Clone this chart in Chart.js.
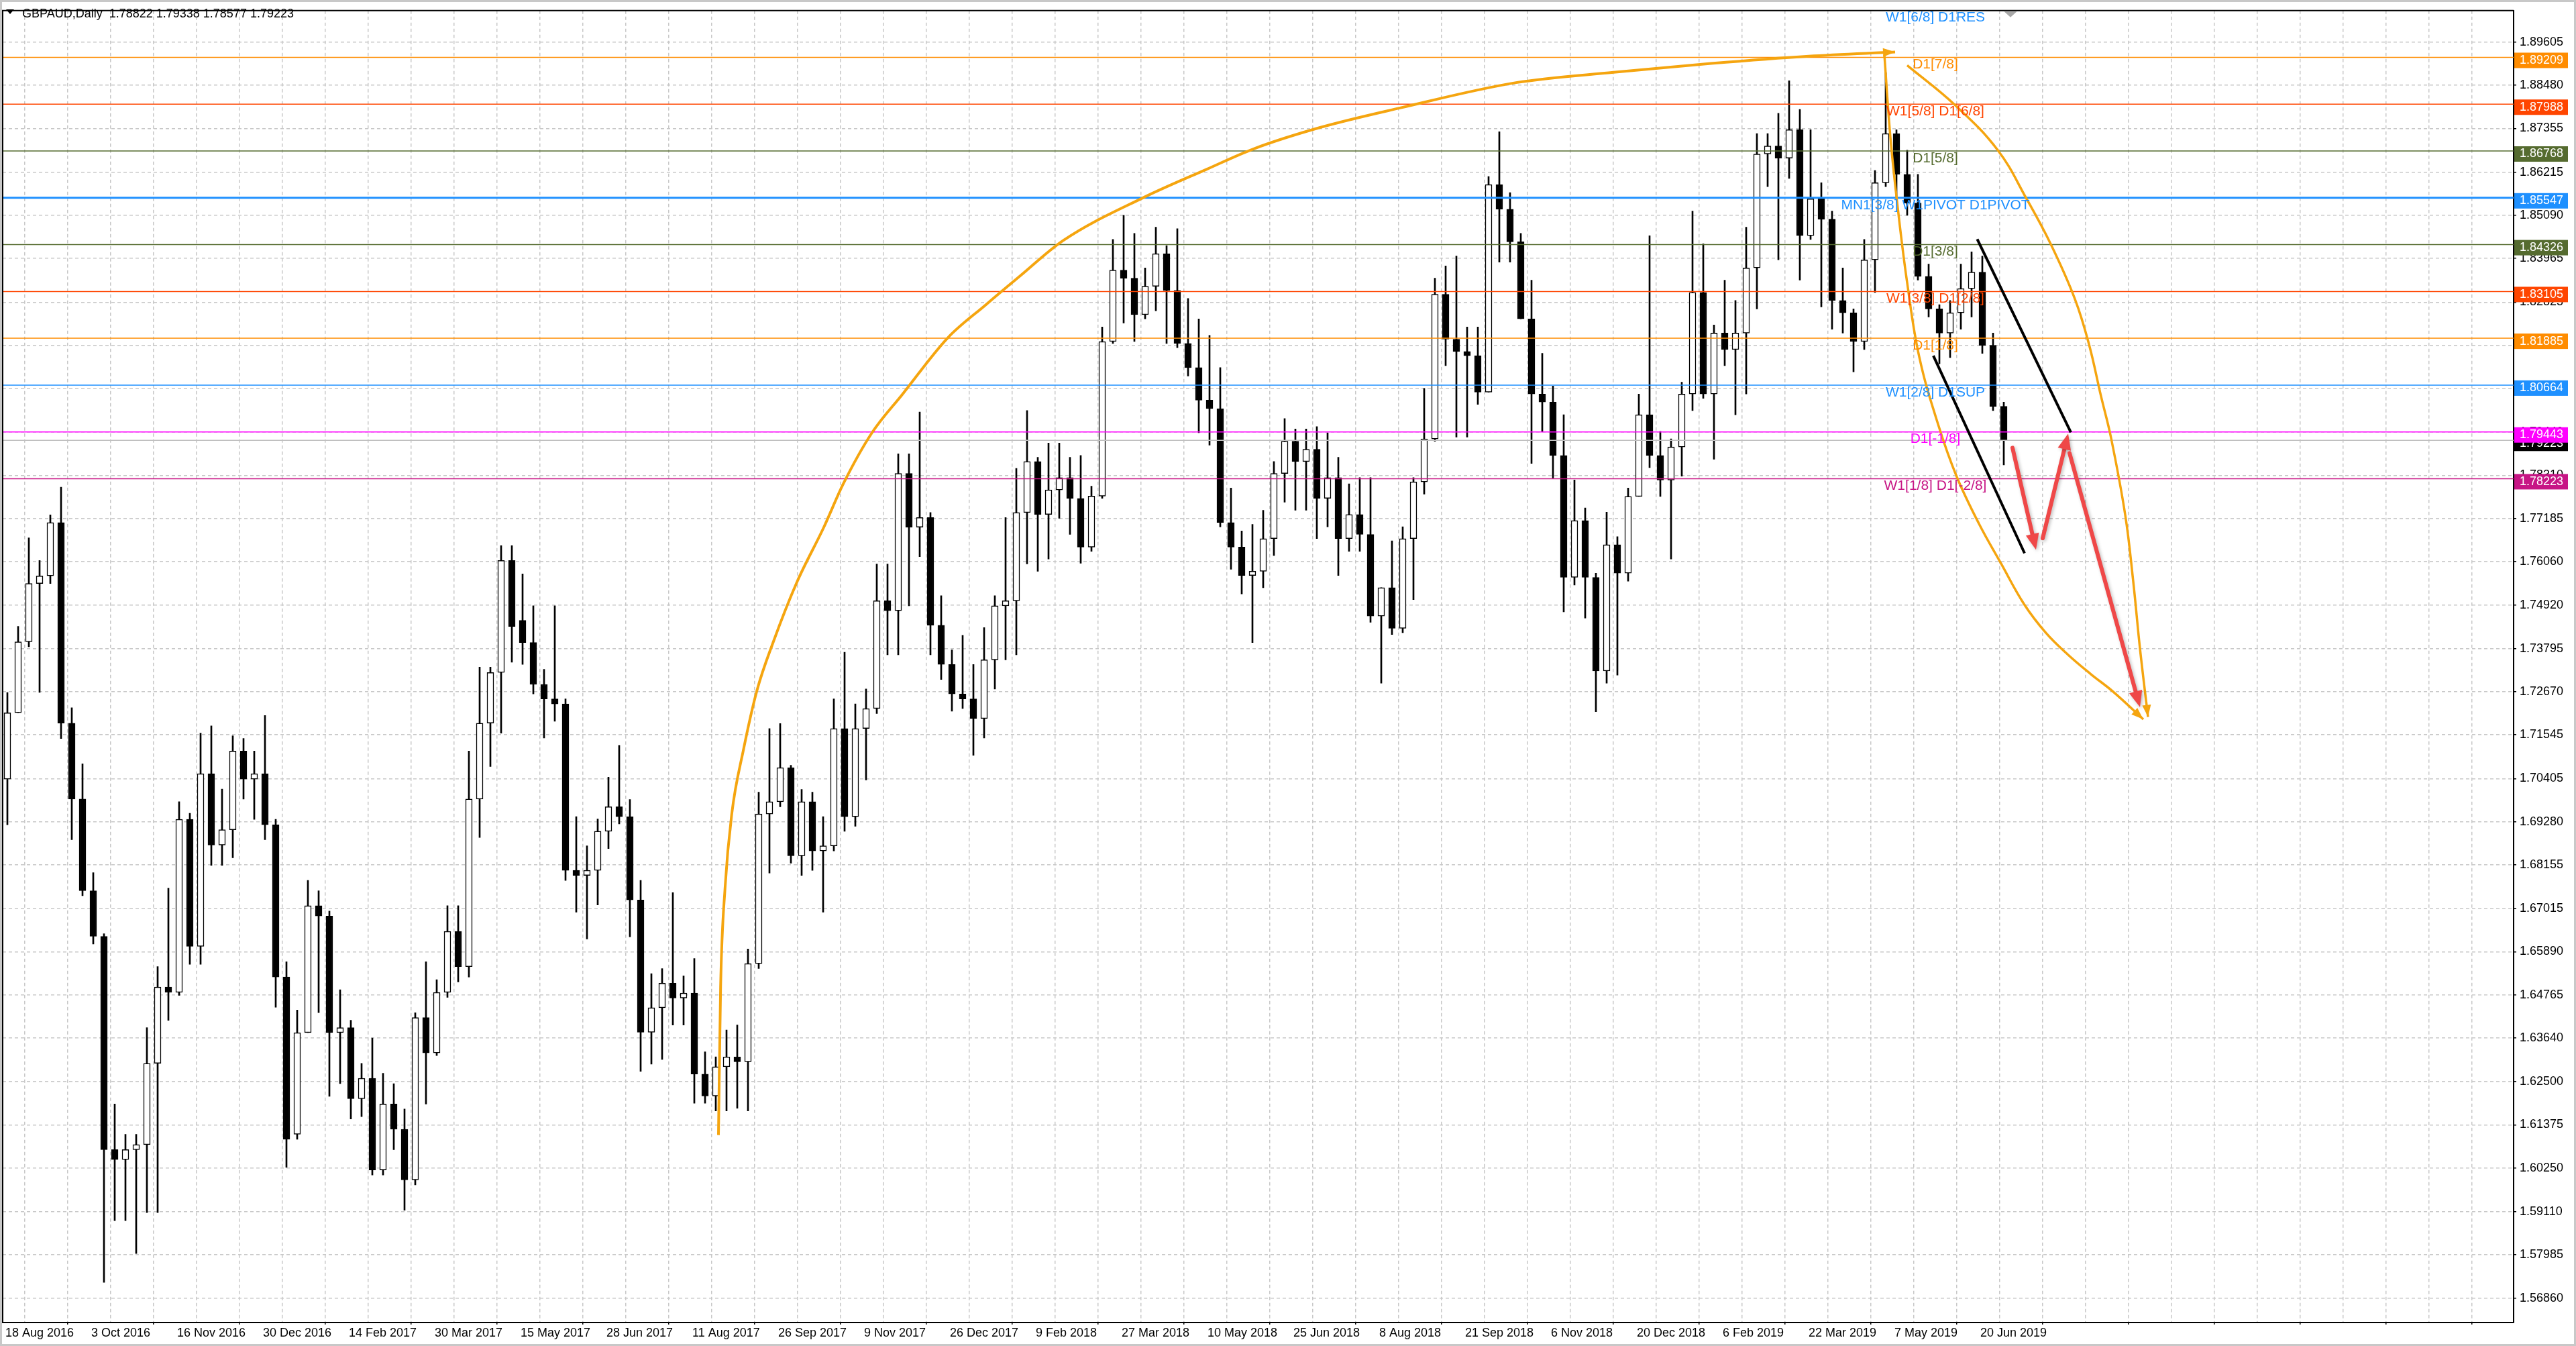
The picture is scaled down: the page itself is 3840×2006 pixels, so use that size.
<!DOCTYPE html>
<html>
<head>
<meta charset="utf-8">
<title>GBPAUD,Daily</title>
<script src="https://cdn.jsdelivr.net/npm/chart.js@4.4.1/dist/chart.umd.min.js"></script>
<style>
  html, body { margin: 0; padding: 0; background: #fff; overflow: hidden; }
  #wrap { width: 3840px; height: 2006px; }
</style>
</head>
<body>
<div id="wrap"><canvas id="chart" width="3840" height="2006"></canvas></div>
<script>
// GBPAUD daily: one candle = 4 trading days
const opens = [
  1.7039, 1.7212, 1.7397, 1.7549, 1.7569, 1.7708, 1.7185, 1.6987, 1.6748, 1.6629,
  1.6073, 1.6047, 1.6073, 1.6086, 1.6298, 1.6497, 1.6483, 1.6934, 1.6603, 1.7053,
  1.6867, 1.6907, 1.7112, 1.7039, 1.7053, 1.6920, 1.6523, 1.6113, 1.6378, 1.6709,
  1.6682, 1.6378, 1.6391, 1.6206, 1.6259, 1.6020, 1.6192, 1.6126, 1.5994, 1.6417,
  1.6325, 1.6483, 1.6642, 1.6550, 1.6987, 1.7185, 1.7317, 1.7609, 1.7453, 1.7395,
  1.7286, 1.7248, 1.7235, 1.6801, 1.6788, 1.6801, 1.6903, 1.6967, 1.6941, 1.6724,
  1.6379, 1.6443, 1.6507, 1.6468, 1.6481, 1.6270, 1.6213, 1.6289, 1.6315, 1.6302,
  1.6558, 1.6948, 1.6980, 1.7069, 1.6839, 1.6980, 1.6852, 1.6865, 1.7171, 1.6941,
  1.7171, 1.7223, 1.7504, 1.7478, 1.7836, 1.7696, 1.7721, 1.7440, 1.7338, 1.7261,
  1.7248, 1.7197, 1.7350, 1.7491, 1.7504, 1.7734, 1.7867, 1.7729, 1.7793, 1.7825,
  1.7771, 1.7644, 1.7777, 1.8180, 1.8366, 1.8345, 1.8250, 1.8324, 1.8409, 1.8313,
  1.8175, 1.8112, 1.8027, 1.8005, 1.7708, 1.7644, 1.7570, 1.7581, 1.7666, 1.7836,
  1.7920, 1.7867, 1.7899, 1.7771, 1.7825, 1.7666, 1.7729, 1.7677, 1.7464, 1.7538,
  1.7432, 1.7666, 1.7814, 1.7926, 1.8303, 1.8186, 1.8154, 1.8143, 1.8048, 1.8589,
  1.8525, 1.8440, 1.8239, 1.8043, 1.8022, 1.7883, 1.7565, 1.7713, 1.7565, 1.7321,
  1.7650, 1.7576, 1.7776, 1.7989, 1.7883, 1.7819, 1.7905, 1.8043, 1.8308, 1.8043,
  1.8202, 1.8159, 1.8202, 1.8372, 1.8669, 1.8690, 1.8658, 1.8732, 1.8456, 1.8552,
  1.8499, 1.8287, 1.8255, 1.8180, 1.8393, 1.8594, 1.8722, 1.8616, 1.8541, 1.8350,
  1.8265, 1.8202, 1.8255, 1.8318, 1.8361, 1.8170, 1.8011
];
const highs = [
  1.7265, 1.7437, 1.7668, 1.7609, 1.7728, 1.7800, 1.7225, 1.7079, 1.6795, 1.6636,
  1.6192, 1.6113, 1.6113, 1.6391, 1.6550, 1.6755, 1.6980, 1.6950, 1.7159, 1.7178,
  1.7013, 1.7152, 1.7145, 1.7112, 1.7205, 1.6934, 1.6563, 1.6437, 1.6775, 1.6748,
  1.6695, 1.6490, 1.6410, 1.6298, 1.6364, 1.6272, 1.6245, 1.6179, 1.6430, 1.6563,
  1.6516, 1.6709, 1.6709, 1.7112, 1.7331, 1.7331, 1.7648, 1.7648, 1.7574, 1.7491,
  1.7325, 1.7491, 1.7248, 1.6941, 1.6865, 1.6935, 1.7044, 1.7127, 1.6986, 1.6775,
  1.6532, 1.6545, 1.6743, 1.6526, 1.6571, 1.6328, 1.6315, 1.6385, 1.6398, 1.6596,
  1.7005, 1.7171, 1.7184, 1.7075, 1.7012, 1.7005, 1.6941, 1.7248, 1.7370, 1.7235,
  1.7274, 1.7600, 1.7600, 1.7887, 1.7887, 1.7996, 1.7734, 1.7517, 1.7376, 1.7414,
  1.7338, 1.7434, 1.7517, 1.7721, 1.7849, 1.8000, 1.7878, 1.7915, 1.7915, 1.7878,
  1.7883, 1.7803, 1.8218, 1.8446, 1.8509, 1.8462, 1.8372, 1.8478, 1.8430, 1.8474,
  1.8292, 1.8239, 1.8196, 1.8112, 1.7798, 1.7686, 1.7703, 1.7740, 1.7867, 1.7979,
  1.7952, 1.7952, 1.7958, 1.7942, 1.7878, 1.7809, 1.7825, 1.7825, 1.7538, 1.7660,
  1.7697, 1.7825, 1.8058, 1.8345, 1.8377, 1.8403, 1.8218, 1.8218, 1.8610, 1.8727,
  1.8568, 1.8462, 1.8340, 1.8149, 1.8064, 1.7989, 1.7819, 1.7746, 1.7576, 1.7735,
  1.7671, 1.7798, 1.8043, 1.8456, 1.7946, 1.7926, 1.8074, 1.8520, 1.8435, 1.8223,
  1.8340, 1.8287, 1.8478, 1.8722, 1.8722, 1.8775, 1.8860, 1.8785, 1.8732, 1.8594,
  1.8520, 1.8372, 1.8265, 1.8446, 1.8626, 1.8881, 1.8732, 1.8679, 1.8616, 1.8382,
  1.8276, 1.8287, 1.8382, 1.8414, 1.8403, 1.8202, 1.8022
];
const lows = [
  1.6920, 1.7212, 1.7384, 1.7265, 1.7549, 1.7145, 1.6881, 1.6735, 1.6609, 1.5727,
  1.5888, 1.5888, 1.5802, 1.5909, 1.5909, 1.6410, 1.6475, 1.6556, 1.6556, 1.6814,
  1.6814, 1.6834, 1.6987, 1.6934, 1.6881, 1.6444, 1.6027, 1.6100, 1.6378, 1.6430,
  1.6212, 1.6245, 1.6153, 1.6159, 1.6007, 1.6007, 1.6073, 1.5915, 1.5981, 1.6192,
  1.6318, 1.6470, 1.6510, 1.6523, 1.6887, 1.7072, 1.7159, 1.7344, 1.7338, 1.7261,
  1.7146, 1.7190, 1.6775, 1.6692, 1.6622, 1.6711, 1.6858, 1.6922, 1.6628, 1.6277,
  1.6296, 1.6308, 1.6398, 1.6398, 1.6194, 1.6194, 1.6174, 1.6174, 1.6181, 1.6174,
  1.6545, 1.6794, 1.6967, 1.6820, 1.6788, 1.6801, 1.6692, 1.6852, 1.6903, 1.6916,
  1.7037, 1.7210, 1.7363, 1.7363, 1.7491, 1.7619, 1.7363, 1.7299, 1.7216, 1.7223,
  1.7101, 1.7146, 1.7274, 1.7350, 1.7363, 1.7600, 1.7581, 1.7613, 1.7719, 1.7677,
  1.7602, 1.7633, 1.7771, 1.8175, 1.8228, 1.8180, 1.8239, 1.8260, 1.8175, 1.8164,
  1.8090, 1.7942, 1.7910, 1.7697, 1.7586, 1.7522, 1.7395, 1.7538, 1.7622, 1.7761,
  1.7740, 1.7740, 1.7666, 1.7697, 1.7570, 1.7633, 1.7633, 1.7448, 1.7289, 1.7416,
  1.7421, 1.7507, 1.7782, 1.7920, 1.8117, 1.7931, 1.7931, 1.8016, 1.8048, 1.8387,
  1.8387, 1.8239, 1.7862, 1.7946, 1.7824, 1.7475, 1.7545, 1.7459, 1.7215, 1.7289,
  1.7310, 1.7555, 1.7776, 1.7851, 1.7776, 1.7613, 1.7829, 1.8000, 1.8032, 1.7873,
  1.8117, 1.7989, 1.8043, 1.8265, 1.8584, 1.8393, 1.8605, 1.8340, 1.8446, 1.8270,
  1.8212, 1.8202, 1.8101, 1.8159, 1.8308, 1.8584, 1.8552, 1.8509, 1.8340, 1.8244,
  1.8122, 1.8138, 1.8212, 1.8244, 1.8149, 1.8000, 1.7858
];
const closes = [
  1.7212, 1.7397, 1.7549, 1.7569, 1.7708, 1.7185, 1.6987, 1.6748, 1.6629, 1.6073,
  1.6047, 1.6073, 1.6086, 1.6298, 1.6497, 1.6483, 1.6934, 1.6603, 1.7053, 1.6867,
  1.6907, 1.7112, 1.7039, 1.7053, 1.6920, 1.6523, 1.6100, 1.6378, 1.6709, 1.6682,
  1.6378, 1.6391, 1.6206, 1.6259, 1.6020, 1.6192, 1.6126, 1.5994, 1.6417, 1.6325,
  1.6483, 1.6642, 1.6550, 1.6987, 1.7185, 1.7317, 1.7609, 1.7437, 1.7395, 1.7286,
  1.7248, 1.7235, 1.6801, 1.6788, 1.6801, 1.6903, 1.6967, 1.6941, 1.6724, 1.6379,
  1.6443, 1.6507, 1.6468, 1.6481, 1.6270, 1.6213, 1.6289, 1.6315, 1.6302, 1.6558,
  1.6948, 1.6980, 1.7069, 1.6839, 1.6980, 1.6852, 1.6865, 1.7171, 1.6941, 1.7171,
  1.7223, 1.7504, 1.7478, 1.7836, 1.7696, 1.7721, 1.7440, 1.7338, 1.7261, 1.7248,
  1.7197, 1.7350, 1.7491, 1.7504, 1.7734, 1.7867, 1.7729, 1.7793, 1.7825, 1.7771,
  1.7644, 1.7777, 1.8180, 1.8366, 1.8345, 1.8250, 1.8324, 1.8409, 1.8313, 1.8175,
  1.8112, 1.8027, 1.8005, 1.7708, 1.7644, 1.7570, 1.7581, 1.7666, 1.7836, 1.7920,
  1.7867, 1.7899, 1.7771, 1.7825, 1.7666, 1.7729, 1.7677, 1.7464, 1.7538, 1.7432,
  1.7666, 1.7814, 1.7926, 1.8303, 1.8186, 1.8154, 1.8143, 1.8048, 1.8589, 1.8525,
  1.8440, 1.8239, 1.8043, 1.8022, 1.7883, 1.7565, 1.7713, 1.7565, 1.7321, 1.7650,
  1.7576, 1.7776, 1.7989, 1.7883, 1.7819, 1.7905, 1.8043, 1.8308, 1.8043, 1.8202,
  1.8159, 1.8202, 1.8372, 1.8669, 1.8690, 1.8658, 1.8732, 1.8456, 1.8552, 1.8499,
  1.8287, 1.8255, 1.8180, 1.8393, 1.8594, 1.8722, 1.8616, 1.8541, 1.8350, 1.8265,
  1.8202, 1.8255, 1.8318, 1.8361, 1.8170, 1.8011, 1.7922
];
const barsPerCandle = 4;

const dateLabels = [
  '18 Aug 2016', '3 Oct 2016', '16 Nov 2016', '30 Dec 2016', '14 Feb 2017', '30 Mar 2017',
  '15 May 2017', '28 Jun 2017', '11 Aug 2017', '26 Sep 2017', '9 Nov 2017', '26 Dec 2017',
  '9 Feb 2018', '27 Mar 2018', '10 May 2018', '25 Jun 2018', '8 Aug 2018', '21 Sep 2018',
  '6 Nov 2018', '20 Dec 2018', '6 Feb 2019', '22 Mar 2019', '7 May 2019', '20 Jun 2019'
];
const priceTicks = [
  1.89605, 1.88480, 1.87355, 1.86215, 1.85090, 1.83965, 1.82825, 1.81700, 1.80575, 1.79440,
  1.78310, 1.77185, 1.76060, 1.74920, 1.73795, 1.72670, 1.71545, 1.70405, 1.69280, 1.68155,
  1.67015, 1.65890, 1.64765, 1.63640, 1.62500, 1.61375, 1.60250, 1.59110, 1.57985, 1.56860
];

// murrey levels
const levelPrices = [1.90430, 1.89209, 1.87988, 1.86768, 1.85547, 1.84326, 1.83105, 1.81885, 1.80664, 1.79443, 1.78223];
const levelTags = ['W1[6/8] D1RES', 'D1[7/8]', 'W1[5/8] D1[6/8]', 'D1[5/8]', 'MN1[3/8] W1PIVOT D1PIVOT',
  'D1[3/8]', 'W1[3/8] D1[2/8]', 'D1[1/8]', 'W1[2/8] D1SUP', 'D1[-1/8]', 'W1[1/8] D1[-2/8]'];
const levelColors = ['#1E90FF', '#FF8C00', '#FF4500', '#556B2F', '#1E90FF', '#556B2F',
  '#FF4500', '#FF8C00', '#1E90FF', '#FF00FF', '#C71585'];
const lastBar = [1.78822, 1.79338, 1.78577, 1.79223];
const tagBar = 720;
const shiftBar = 748;

// hand drawn objects, [bar, price]
const bigArc = [[266.5, 1.6111], [267.3, 1.6497], [268.95, 1.6755], [271.45, 1.6948], [275.8, 1.7115],
  [280.8, 1.7269], [287, 1.7398], [295.7, 1.7552], [305.65, 1.7694], [313.1, 1.7810], [323.7, 1.7942],
  [334.9, 1.8041], [352, 1.8190], [366, 1.8275], [378.75, 1.8350], [394.9, 1.8443], [424.8, 1.8555],
  [448.4, 1.8629], [465.8, 1.8682], [490.7, 1.8738], [520.5, 1.8789], [563.75, 1.8855], [600.1, 1.8882],
  [636.45, 1.8905], [672.8, 1.8924], [705, 1.8935]];
const innerArc = [[701, 1.8927], [703.25, 1.8712], [706, 1.8528], [709.5, 1.8333], [714, 1.8140],
  [721.25, 1.7959], [728, 1.7827], [736.25, 1.7705], [744.5, 1.7601], [753, 1.7496], [761.25, 1.7420],
  [769.5, 1.7363], [777.9, 1.7313], [786.25, 1.7267], [797.5, 1.7195]];
const outerArc = [[709.5, 1.8900], [727.25, 1.8797], [743.25, 1.8679], [754, 1.8552], [763, 1.8434],
  [772, 1.8291], [777.25, 1.8173], [781.75, 1.8037], [785.5, 1.7928], [790.75, 1.7728], [793.75, 1.7554],
  [796.25, 1.7380], [799.25, 1.7201]];
const channelTop = [[735.6, 1.8447], [770.5, 1.7943]];
const channelBottom = [[719.25, 1.8143], [753.25, 1.7628]];
const redArrows = [
  [[748.75, 1.7903], [757.5, 1.7637]],
  [[760, 1.7667], [769.5, 1.7940]],
  [[770, 1.7889], [796.25, 1.7227]]
];

const xMin = -0.25, xMax = 935.5;
const yMin = 1.56222, yMax = 1.90428;
const FONT = '"Liberation Sans", Arial, sans-serif';
const ORANGE = '#F5A50F';
const RED = '#EF4848';

const candleX = opens.map((o, k) => k * barsPerCandle + (barsPerCandle - 1) / 2);
const toPts = arr => arr.map(p => ({x: p[0], y: p[1]}));

const datasets = [];
datasets.push({
  type: 'line', data: toPts(bigArc), borderColor: ORANGE, borderWidth: 4,
  pointRadius: 0, cubicInterpolationMode: 'monotone', order: 0
});
[innerArc, outerArc].forEach(arc => {
  datasets.push({
    type: 'line', data: toPts(arc), borderColor: ORANGE, borderWidth: 3.5,
    pointRadius: 0, tension: 0.4, order: 0
  });
});
[channelTop, channelBottom].forEach(line => {
  datasets.push({type: 'line', data: toPts(line), borderColor: '#000', borderWidth: 4, pointRadius: 0, order: 0});
});
levelPrices.forEach((p, i) => {
  if (p > yMax) return;
  datasets.push({
    type: 'line', data: [{x: xMin, y: p}, {x: xMax, y: p}], borderColor: levelColors[i],
    borderWidth: i === 4 ? 3 : 1.5, pointRadius: 0, order: 1
  });
});
datasets.push({
  type: 'line', data: [{x: xMin, y: lastBar[3]}, {x: xMax, y: lastBar[3]}], borderColor: '#C0C0C0',
  borderWidth: 1.5, pointRadius: 0, order: 1
});
// bodies
datasets.push({
  type: 'bar', grouped: false, order: 2,
  data: candleX.map((x, k) => ({x: x, y: [opens[k], closes[k]]})),
  backgroundColor: c => closes[c.dataIndex] >= opens[c.dataIndex] ? '#ffffff' : '#000000',
  borderColor: '#000000', borderWidth: 1.5, borderSkipped: false, barThickness: 10
});
// wicks
datasets.push({
  type: 'bar', grouped: false, order: 3,
  data: candleX.map((x, k) => ({x: x, y: [lows[k], highs[k]]})),
  backgroundColor: '#000000', borderWidth: 0, barThickness: 2
});

function arrowHead(c, x1, y1, x2, y2, len, wid, color) {
  const ang = Math.atan2(y2 - y1, x2 - x1);
  c.save();
  c.translate(x2, y2);
  c.rotate(ang);
  c.beginPath();
  c.moveTo(0, 0);
  c.lineTo(-len, wid / 2);
  c.lineTo(-len, -wid / 2);
  c.closePath();
  c.fillStyle = color;
  c.fill();
  c.restore();
}

const overlay = {
  id: 'overlay',
  beforeDraw(chart) {
    const c = chart.ctx;
    c.save();
    c.fillStyle = '#ffffff';
    c.fillRect(0, 0, chart.width, chart.height);
    c.restore();
  },
  afterDatasetsDraw(chart) {
    const c = chart.ctx;
    const {x, y} = chart.scales;
    const px = p => [x.getPixelForValue(p[0]), y.getPixelForValue(p[1])];

    // orange arrow heads
    [bigArc, innerArc, outerArc].forEach(arc => {
      const a = px(arc[arc.length - 2]), b = px(arc[arc.length - 1]);
      arrowHead(c, a[0], a[1], b[0], b[1], 18, 13, ORANGE);
    });

    // red arrows
    redArrows.forEach(ar => {
      const a = px(ar[0]), b = px(ar[1]);
      const len = Math.hypot(b[0] - a[0], b[1] - a[1]);
      const ux = (b[0] - a[0]) / len, uy = (b[1] - a[1]) / len;
      c.save();
      c.shadowColor = 'rgba(0,0,0,0.25)';
      c.shadowBlur = 5;
      c.shadowOffsetX = 2;
      c.shadowOffsetY = 2;
      c.strokeStyle = RED;
      c.lineWidth = 6;
      c.lineCap = 'round';
      c.beginPath();
      c.moveTo(a[0], a[1]);
      c.lineTo(b[0] - ux * 18, b[1] - uy * 18);
      c.stroke();
      arrowHead(c, a[0], a[1], b[0], b[1], 24, 20, RED);
      c.restore();
    });

    // level captions
    c.save();
    c.font = '21px ' + FONT;
    c.textAlign = 'center';
    c.textBaseline = 'middle';
    levelPrices.forEach((p, i) => {
      c.fillStyle = levelColors[i];
      c.fillText(levelTags[i], x.getPixelForValue(tagBar), y.getPixelForValue(p) + 11);
    });
    c.restore();
  },
  afterDraw(chart) {
    const c = chart.ctx;
    const a = chart.chartArea;
    const {x, y} = chart.scales;

    // frame
    c.save();
    c.strokeStyle = '#000';
    c.lineWidth = 2;
    c.beginPath();
    c.moveTo(a.left, a.bottom);
    c.lineTo(a.left, a.top);
    c.lineTo(a.right, a.top);
    c.stroke();
    c.strokeStyle = '#C8C8C8';
    c.lineWidth = 3;
    c.strokeRect(1.5, 1.5, chart.width - 3, chart.height - 3);
    c.restore();

    // header
    c.save();
    c.fillStyle = '#000';
    c.beginPath();
    c.moveTo(9, 14);
    c.lineTo(21, 14);
    c.lineTo(15, 21);
    c.closePath();
    c.fill();
    c.font = '18px ' + FONT;
    c.textBaseline = 'middle';
    c.fillText('GBPAUD,Daily  ' + lastBar.map(v => v.toFixed(5)).join(' '), 33, 21);
    c.restore();

    // chart shift marker
    c.save();
    const sx = x.getPixelForValue(shiftBar);
    c.fillStyle = '#A8A8A8';
    c.beginPath();
    c.moveTo(sx - 10, a.top + 1);
    c.lineTo(sx + 10, a.top + 1);
    c.lineTo(sx, a.top + 10);
    c.closePath();
    c.fill();
    c.restore();

    // price boxes on the axis
    c.save();
    c.font = '18px ' + FONT;
    c.textBaseline = 'middle';
    const box = (p, bg) => {
      const py = y.getPixelForValue(p);
      c.fillStyle = bg;
      c.fillRect(a.right + 1, py - 7, 80, 23);
      c.fillStyle = '#fff';
      c.fillText(p.toFixed(5), a.right + 9, py + 4.5);
    };
    box(lastBar[3], '#000000');
    levelPrices.forEach((p, i) => {
      if (p <= yMax) box(p, levelColors[i]);
    });
    c.restore();
  }
};

new Chart(document.getElementById('chart'), {
  type: 'bar',
  data: {datasets: datasets},
  options: {
    responsive: false,
    devicePixelRatio: 1,
    animation: false,
    events: [],
    layout: {padding: {left: 4, top: 4, right: 0, bottom: 0}, autoPadding: false},
    plugins: {legend: {display: false}, tooltip: {enabled: false}},
    scales: {
      x: {
        type: 'linear', min: xMin, max: xMax, offset: false,
        afterFit: s => { s.height = 35; },
        afterBuildTicks: s => {
          const t = [];
          for (let v = 0; v <= xMax; v += 16) t.push({value: v});
          s.ticks = t;
        },
        grid: {
          color: '#C8C8C8', lineWidth: 1.5, tickLength: 3,
          tickColor: c => (c.tick && c.tick.value % 32 === 0) ? '#000' : 'rgba(0,0,0,0)'
        },
        border: {display: true, color: '#000', width: 2, dash: [5, 4]},
        ticks: {
          autoSkip: false, maxRotation: 0, minRotation: 0, align: 'start', labelOffset: 3, padding: 2,
          color: '#000', font: {family: FONT, size: 18},
          callback: v => (v % 32 === 0 && dateLabels[v / 32]) ? dateLabels[v / 32] : ''
        }
      },
      y: {
        type: 'linear', position: 'right', min: yMin, max: yMax,
        afterFit: s => { s.width = 93; },
        afterBuildTicks: s => { s.ticks = priceTicks.map(v => ({value: v})); },
        grid: {color: '#C8C8C8', lineWidth: 1.5, tickLength: 4, tickColor: '#000'},
        border: {display: true, color: '#000', width: 2, dash: [5, 4]},
        ticks: {
          autoSkip: false, padding: 5, color: '#000', font: {family: FONT, size: 18},
          callback: v => v.toFixed(5)
        }
      }
    }
  },
  plugins: [overlay]
});
</script>
</body>
</html>
